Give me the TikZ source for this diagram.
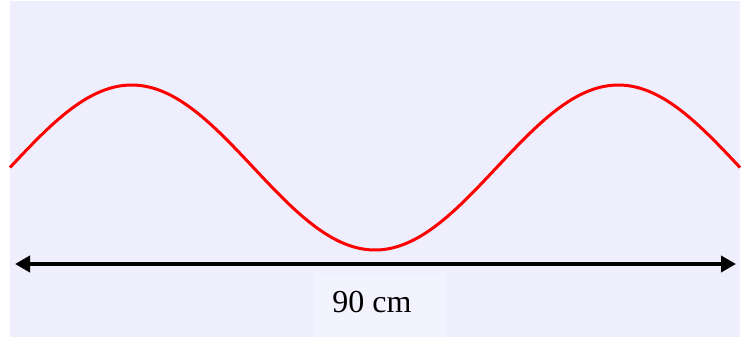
\documentclass[tikz,border=0pt]{standalone}
\usepackage{fontspec}
\setmainfont{Liberation Serif}
\usetikzlibrary{arrows.meta}
\definecolor{bglav}{HTML}{EEEEFD}
\definecolor{boxlav}{HTML}{F3F3FF}
\definecolor{wavered}{HTML}{FF0000}
\tikzset{
  wave/.style={draw=wavered, line width=3pt, line join=round},
  dimarrow/.style={draw=black, line width=4pt, {Triangle[length=15pt,width=16pt]}-{Triangle[length=15pt,width=16pt]}},
  labelbox/.style={fill=boxlav, draw=none, minimum width=132pt, minimum height=64pt, inner sep=0pt},
  labeltext/.style={font=\fontsize{32}{36}\selectfont, inner sep=0pt}
}
\begin{document}
\begin{tikzpicture}[x=1pt,y=-1pt]
\useasboundingbox (0,0) rectangle (742,337);
\fill[white] (0,0) rectangle (742,337);
\fill[bglav] (10,1) rectangle (740,337);
\node[labelbox, anchor=north west] (box) at (314,273) {};
\draw[wave] plot[domain=0:730, samples=200, smooth] ({10+\x}, {167.5-82.5*sin(\x*0.739726)});
\coordinate (L) at (15,264);
\coordinate (R) at (736,264);
\draw[dimarrow] (L) -- (R);
\node[labeltext] (lbl) at (372,302) {90 cm};
\end{tikzpicture}
\end{document}
